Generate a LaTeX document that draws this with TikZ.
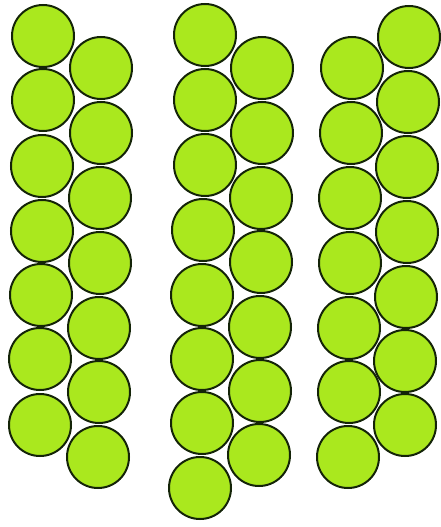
\documentclass[tikz,border=0pt]{standalone}
\begin{document}
\begin{tikzpicture}[x=1pt,y=-1pt,
  ball/.style={circle,draw=ballline,fill=ballfill,line width=2pt,minimum size=62pt,inner sep=0pt,outer sep=0pt}]
\definecolor{ballfill}{RGB}{170,232,30}
\definecolor{ballline}{RGB}{20,36,8}
\useasboundingbox (0,0) rectangle (441,527);
% left group, left column
\foreach \i/\x/\y in {1/43/36,2/43/100,3/42/166,4/42/231,5/41/295,6/40/359,7/40/425}
  \node[ball] (la\i) at (\x,\y) {};
% left group, right column
\foreach \i/\x/\y in {1/101/68,2/101/133,3/100/198,4/100/263,5/99/328,6/99/392,7/98/457}
  \node[ball] (lb\i) at (\x,\y) {};
% middle group, left column
\foreach \i/\x/\y in {1/205/35,2/205/100,3/205/165,4/203/230,5/202/295,6/202/359,7/202/423,8/200/488}
  \node[ball] (ma\i) at (\x,\y) {};
% middle group, right column
\foreach \i/\x/\y in {1/262/68,2/262/133,3/261/198,4/261/262,5/260/327,6/260/391,7/259/455}
  \node[ball] (mb\i) at (\x,\y) {};
% right group, left column
\foreach \i/\x/\y in {1/352/68,2/351/133,3/350/198,4/350/263,5/349/328,6/349/392,7/348/457}
  \node[ball] (ra\i) at (\x,\y) {};
% right group, right column
\foreach \i/\x/\y in {1/409/37,2/408/102,3/407/167,4/407/232,5/406/297,6/405/361,7/405/425}
  \node[ball] (rb\i) at (\x,\y) {};
\end{tikzpicture}
\end{document}
